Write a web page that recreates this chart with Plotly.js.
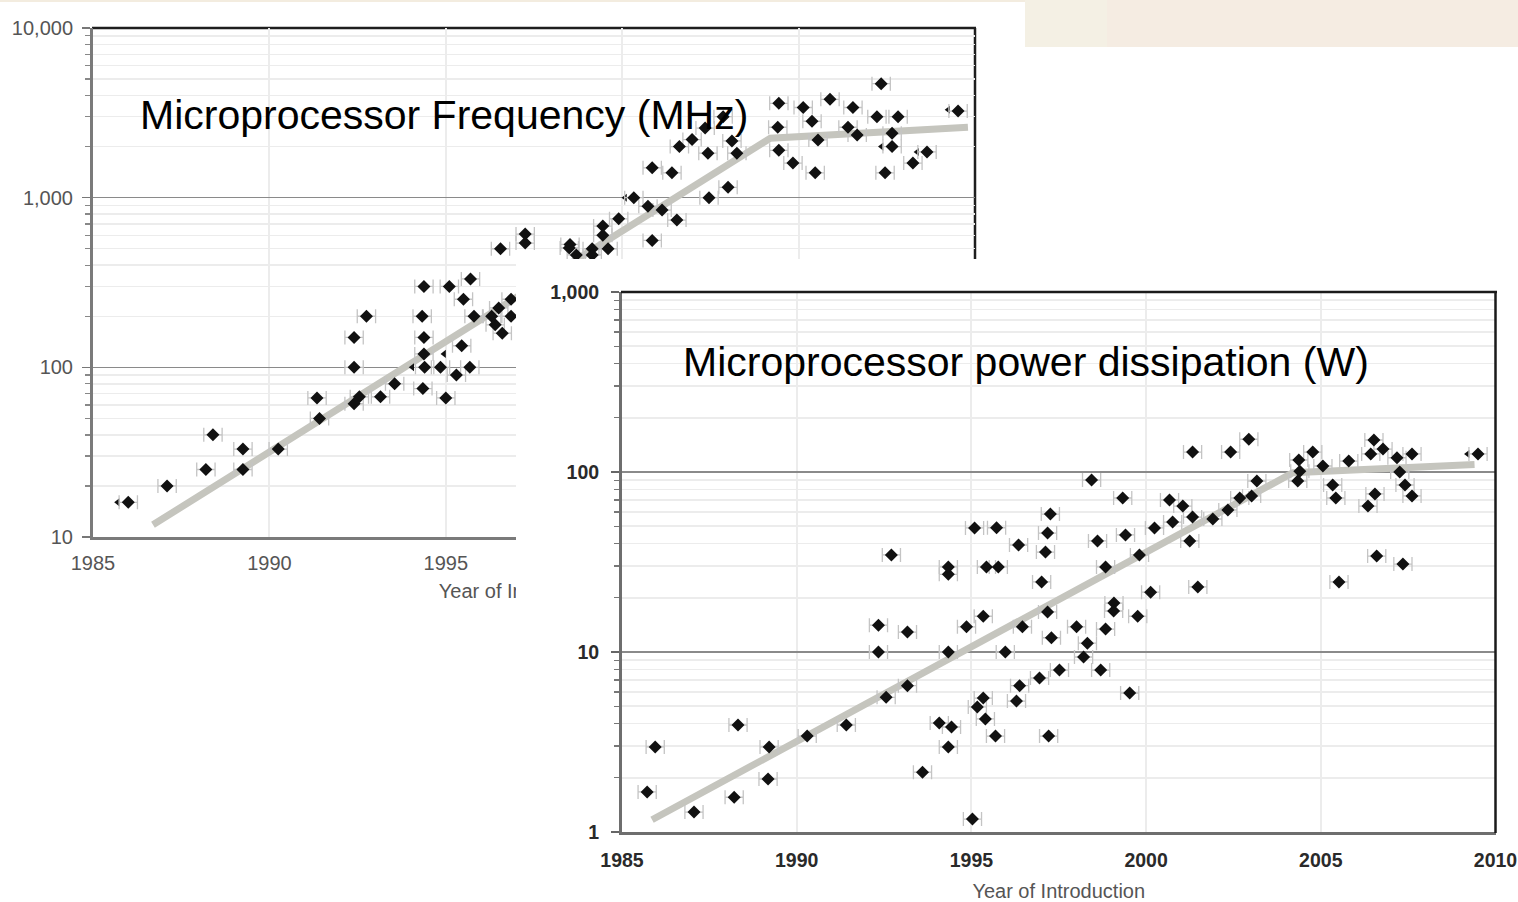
<!DOCTYPE html>
<html>
<head>
<meta charset="utf-8">
<script src="https://cdn.plot.ly/plotly-3.0.1.min.js"></script>
<style>html,body{margin:0;padding:0;background:#fff;}#chart{width:1518px;height:902px;}</style>
</head>
<body>
<div id="chart"></div>
<script>
// ---------------- DATA ----------------
// Microprocessor frequency (MHz) by year of introduction (visible points)
const freqYear = [1986.0,1987.1,1988.2,1988.4,1989.25,1989.25,1990.25,1991.35,1991.42,
  1992.4,1992.4,1992.4,1992.55,1992.75,1993.15,1993.55,
  1994.38,1994.33,1994.38,1994.38,1994.4,1994.35,1994.85,1995.0,
  1995.1,1995.7,1995.5,1995.8,1995.45,1995.3,1995.68,
  1996.3,1996.4,1996.5,1996.6,1996.85,1996.85,
  1996.55,1997.25,1997.25,1998.52,1998.5,1998.7,1999.15,1999.15,1999.6,1999.45,1999.45,1999.9,
  2000.33,2000.73,2000.85,2001.13,2001.55,2000.85,2001.41,2001.62,2001.98,2002.35,2002.86,
  2002.43,2002.46,2003.0,2003.11,2003.25,2004.44,2004.41,2004.44,2004.84,2005.13,2005.38,
  2005.55,2005.47,2005.89,2006.54,2006.4,2006.66,2007.22,2007.34,2007.82,2007.65,2007.65,
  2007.45,2008.24,2008.64,2009.52];
const freqMHz = [16,20,25,40,33,25,33,66,50,
  150,100,61,67,200,67,80,
  300,200,150,120,100,75,100,66,
  300,332,252,200,134,90,100,
  200,178,224,159,252,200,
  500,610,540,530,505,460,500,460,500,680,600,750,
  1000,890,560,845,738,1500,1400,2000,2200,2570,3000,
  1830,1000,1150,2160,1830,3600,2600,1900,1600,3400,2820,
  2190,1400,3800,3400,2600,2340,3000,4700,3000,2400,2000,
  1400,1600,1860,3240];
// partly hidden (overlapped) points, seen as left half-diamonds
const freqPartYear = [1985.7,1994.05,1994.95,2000.08,2007.35,2008.36,2009.24];
const freqPartMHz  = [16,100,120,1000,2000,1860,3300];
// trend line
const freqTrendYear = [1986.7,2004.2,2009.8];
const freqTrendMHz  = [11.8,2240,2600];

// Microprocessor power dissipation (W)
const powerYear = [1985.72,1985.95,1987.06,1988.21,1988.32,1989.18,1989.21,1990.3,1991.42,
  1992.34,1992.34,1992.56,1992.71,1993.17,1993.17,1993.6,1994.08,1994.34,1994.34,1994.43,1994.34,1994.34,
  1994.86,1995.09,1995.03,1995.17,1995.34,1995.34,1995.43,1995.4,1995.72,1995.77,1995.69,1995.97,
  1996.35,1996.29,1996.38,1996.46,1996.95,1997.01,1997.12,1997.18,1997.21,1997.29,1997.18,1997.26,
  1997.52,1998.01,1998.21,1998.32,1998.44,1998.61,1998.7,1998.84,1998.84,1999.08,1999.07,
  1999.33,1999.41,1999.53,1999.76,1999.81,2000.13,2000.24,2000.67,2000.76,2001.05,2001.25,
  2001.33,2001.33,2001.48,2001.91,2002.34,2002.42,2002.68,2002.94,2003.02,2003.17,
  2004.34,2004.37,2004.4,2004.77,2005.06,2005.34,2005.43,2005.52,2005.8,2006.35,2006.43,
  2006.52,2006.55,2006.6,2006.78,2007.18,2007.26,2007.35,2007.41,2007.61,2007.61,2009.5];
const powerW = [1.67,2.97,1.29,1.56,3.93,1.97,2.97,3.41,3.93,
  10,14.1,5.6,34.6,12.9,6.5,2.15,4.03,27,29.7,3.83,2.97,10,
  13.8,48.9,1.18,4.95,5.55,15.8,29.7,4.25,49,29.7,3.41,10,
  39.3,5.34,6.5,13.8,7.17,24.5,35.9,16.7,3.41,12,45.8,58.4,
  7.94,13.8,9.38,11.2,90.2,41.4,7.94,13.4,29.7,18.7,16.9,
  71.7,44.7,5.92,15.8,34.6,21.5,48.9,69.9,52.7,64.7,41.4,
  56.2,129,23,54.8,61.5,129,71.7,152,73.6,89.1,
  89.1,116.6,101,129,108,84.7,71.7,24.5,115,64.7,126,
  150.6,75.5,34.1,134,120,100,30.8,84.7,126,73.6,126];
const powerPartYear = [2009.2];
const powerPartW    = [126];
const powerTrendYear = [1985.86,2004.2,2009.4];
const powerTrendW    = [1.17,99,110];

// ticks and labels
const yearTicks = [1985,1990,1995,2000,2005,2010];
const freqTickVals = [10,100,1000,10000];
const freqTickText = ['10','100','1,000','10,000'];
const powerTickVals = [1,10,100,1000];
const powerTickText = ['1','10','100','1,000'];
const freqTitle = 'Microprocessor Frequency (MHz)';
const powerTitle = 'Microprocessor power dissipation (W)';
const xTitle = 'Year of Introduction';
const freqXTitleAt = 1997.25;   // where the (partly covered) x title of the first chart is centred

// ---------------- STYLE / LAYOUT ----------------
const W = 1518, H = 902;
const px = v => v / W;            // pixel -> paper x
const py = v => (H - v) / H;      // pixel -> paper y
const FONT = 'Liberation Sans, Arial, sans-serif';
const trendColor = '#c5c5be';
const err = {type:'constant', value:0.26, color:'#c4c4c4', thickness:1.3, width:7};
const diamond = {symbol:'diamond', size:10, color:'#111'};

const traces = [
  {x:freqTrendYear, y:freqTrendMHz, xaxis:'x', yaxis:'y', mode:'lines',
   line:{color:trendColor, width:7}, hoverinfo:'skip'},
  {x:[freqXTitleAt], y:[freqTickVals[0]], xaxis:'x', yaxis:'y',
   mode:'markers+text', text:[xTitle], textposition:'bottom center', cliponaxis:false,
   textfont:{family:FONT, size:20, color:'#555'}, marker:{size:72, opacity:0}, hoverinfo:'skip'},
  {x:freqPartYear, y:freqPartMHz, xaxis:'x', yaxis:'y', mode:'markers',
   marker:{symbol:'triangle-left', size:7, color:'#111'}, hoverinfo:'skip'},
  {x:freqYear, y:freqMHz, xaxis:'x', yaxis:'y', mode:'markers', marker:diamond, error_x:err},
  // empty helper trace: creates the white panel that the second chart sits on
  {x:[null], y:[null], xaxis:'x2', yaxis:'y2', mode:'markers', hoverinfo:'skip'},
  {x:powerTrendYear, y:powerTrendW, xaxis:'x3', yaxis:'y3', mode:'lines',
   line:{color:trendColor, width:7}, hoverinfo:'skip'},
  {x:powerPartYear, y:powerPartW, xaxis:'x3', yaxis:'y3', mode:'markers',
   marker:{symbol:'triangle-left', size:7, color:'#111'}, hoverinfo:'skip'},
  {x:powerYear, y:powerW, xaxis:'x3', yaxis:'y3', mode:'markers', marker:diamond, error_x:err}
];

const gridMinor = '#ececec';
const layout = {
  width:W, height:H, margin:{l:0,r:0,t:0,b:0},
  paper_bgcolor:'#ffffff', plot_bgcolor:'#ffffff', showlegend:false,
  font:{family:FONT},
  xaxis:{domain:[px(93),px(975)], anchor:'y', range:[1985,2010], tickvals:yearTicks,
    showgrid:true, gridcolor:gridMinor, gridwidth:2, zeroline:false,
    showline:true, linecolor:'#7a7a7a', linewidth:3, ticks:'', ticklabelstandoff:6,
    tickfont:{family:FONT, size:20, color:'#555'}},
  yaxis:{domain:[py(537),py(28)], anchor:'x', type:'log', range:[1,4],
    tickvals:freqTickVals, ticktext:freqTickText,
    showgrid:true, gridcolor:'#8a8a8a', gridwidth:1.6, zeroline:false,
    showline:true, linecolor:'#7a7a7a', linewidth:3,
    ticks:'outside', ticklen:8, tickwidth:1.5, tickcolor:'#777', ticklabelstandoff:5,
    tickfont:{family:FONT, size:20, color:'#555'},
    minor:{dtick:'D1', ticks:'outside', ticklen:5, tickwidth:1.3, tickcolor:'#888',
      showgrid:true, gridcolor:gridMinor, gridwidth:1.5}},
  // cover panel (white background of the overlapping second chart)
  xaxis2:{domain:[px(516),1], anchor:'y2', range:[0,1], visible:false, fixedrange:true},
  yaxis2:{domain:[0,py(259)], anchor:'x2', range:[0,1], visible:false, fixedrange:true},
  xaxis3:{domain:[px(622),px(1495.5)], anchor:'y3', range:[1985,2010], tickvals:yearTicks,
    showgrid:true, gridcolor:gridMinor, gridwidth:2, zeroline:false,
    showline:true, linecolor:'#6e6e6e', linewidth:3, ticks:'', ticklabelstandoff:9,
    tickfont:{family:FONT, size:19.5, color:'#2a2a2a', weight:'bold'},
    title:{text:xTitle, font:{family:FONT, size:20, color:'#555'}, standoff:14}},
  yaxis3:{domain:[py(832),py(292)], anchor:'x3', type:'log', range:[0,3],
    tickvals:powerTickVals, ticktext:powerTickText,
    showgrid:true, gridcolor:'#8a8a8a', gridwidth:1.6, zeroline:false,
    showline:true, linecolor:'#6e6e6e', linewidth:3,
    ticks:'outside', ticklen:8, tickwidth:1.5, tickcolor:'#666', ticklabelstandoff:8,
    tickfont:{family:FONT, size:19.5, color:'#2a2a2a', weight:'bold'},
    minor:{dtick:'D1', ticks:'outside', ticklen:5, tickwidth:1.3, tickcolor:'#777',
      showgrid:true, gridcolor:gridMinor, gridwidth:1.5}},
  shapes:[
    // beige header remnants
    {type:'rect', xref:'paper', yref:'paper', x0:0, x1:px(1025), y0:py(2), y1:1,
     fillcolor:'#f3ecdf', line:{width:0}, layer:'below'},
    {type:'rect', xref:'paper', yref:'paper', x0:px(1025), x1:1, y0:py(47), y1:1,
     fillcolor:'#f5ece2', line:{width:0}, layer:'below'},
    {type:'rect', xref:'paper', yref:'paper', x0:px(1025), x1:px(1107), y0:py(47), y1:1,
     fillcolor:'#f4f0e4', line:{width:0}, layer:'below'},
    // frequency chart top & right frame (beneath the covering panel)
    {type:'line', xref:'paper', yref:'paper', x0:px(92), x1:px(976), y0:py(28), y1:py(28),
     line:{color:'#1e1e1e', width:2.5}, layer:'below'},
    {type:'line', xref:'paper', yref:'paper', x0:px(975), x1:px(975), y0:py(28), y1:py(537),
     line:{color:'#1e1e1e', width:2.5}, layer:'below'},
    // power chart top & right frame
    {type:'line', xref:'paper', yref:'paper', x0:px(621), x1:px(1497), y0:py(292), y1:py(292),
     line:{color:'#1a1a1a', width:2.5}, layer:'above'},
    {type:'line', xref:'paper', yref:'paper', x0:px(1495.5), x1:px(1495.5), y0:py(292), y1:py(833),
     line:{color:'#1a1a1a', width:2.5}, layer:'above'}
  ],
  annotations:[
    {text:freqTitle, xref:'paper', yref:'paper', x:px(138), y:py(115), xanchor:'left', yanchor:'middle',
     showarrow:false, font:{family:FONT, size:41, color:'#000'}},
    {text:powerTitle, xref:'paper', yref:'paper', x:px(681), y:py(362), xanchor:'left', yanchor:'middle',
     showarrow:false, font:{family:FONT, size:41, color:'#000'}}
  ]
};

Plotly.newPlot('chart', traces, layout, {displayModeBar:false, staticPlot:true});
</script>
</body>
</html>
